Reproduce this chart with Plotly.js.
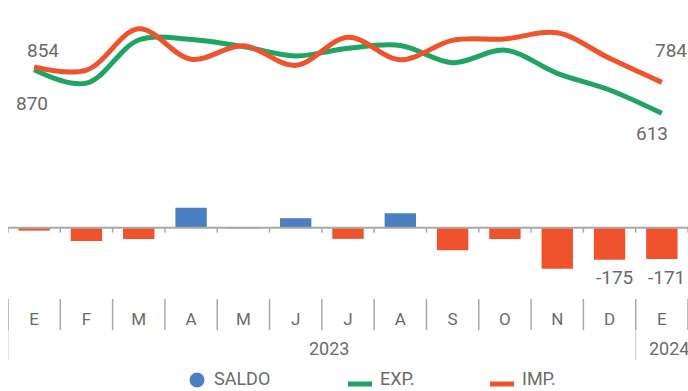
<!DOCTYPE html>
<html>
<head>
<meta charset="utf-8">
<script src="https://cdn.plot.ly/plotly-3.0.1.min.js"></script>
<style>
  html, body { margin: 0; padding: 0; background: #fff; }
  #chart { width: 688px; height: 391px; }
</style>
</head>
<body>
<div id="chart"></div>
<script>
// Monthly trade: exports, imports and balance (SALDO = EXP. - IMP.)
const months = ['E', 'F', 'M', 'A', 'M', 'J', 'J', 'A', 'S', 'O', 'N', 'D', 'E'];
const years = ['2023', '2024'];
const yearFirst = [0, 12];
const yearLast = [11, 12];
const exports = [854, 780, 1018, 1021, 982, 930, 972, 988, 893, 962, 834, 742, 613];
const imports = [870, 852, 1080, 912, 986, 878, 1033, 909, 1016, 1024, 1058, 917, 784];
const seriesNames = ['SALDO', 'EXP.', 'IMP.'];

const idx = months.map((_, i) => i);
const saldo = exports.map((v, i) => v - imports[i]);

const GREEN = '#1fa463';
const ORANGE = '#ef532e';
const BLUE = '#4c7fc2';
const GREY_TEXT = '#6b6b6b';
const FONT = 'Roboto, "Open Sans", sans-serif';

// plot area geometry (pixels) used to place legend / year row in paper space
const PLOT_L = 8, PLOT_W = 680, PLOT_H = 300;
const px = x => (x - PLOT_L) / PLOT_W;
const py = y => (PLOT_H - y) / PLOT_H;

const traces = [
  {
    type: 'bar', x: idx, y: saldo, yaxis: 'y2', width: 0.6,
    marker: { color: saldo.map(v => v >= 0 ? BLUE : ORANGE) },
    name: seriesNames[0], showlegend: false, hoverinfo: 'skip'
  },
  {
    type: 'scatter', mode: 'lines', x: idx, y: exports,
    line: { color: GREEN, width: 5, shape: 'spline', smoothing: 1 },
    name: seriesNames[1], showlegend: false, hoverinfo: 'skip'
  },
  {
    type: 'scatter', mode: 'lines', x: idx, y: imports,
    line: { color: ORANGE, width: 5, shape: 'spline', smoothing: 1 },
    name: seriesNames[2], showlegend: false, hoverinfo: 'skip'
  }
];

const last = idx.length - 1;
const labelFont = { family: FONT, size: 19, color: GREY_TEXT };
const annotations = [
  { x: 0, y: exports[0], yref: 'y', text: String(exports[0]), xshift: 9, yshift: 19 },
  { x: 0, y: imports[0], yref: 'y', text: String(imports[0]), xshift: -2, yshift: -37 },
  { x: last, y: imports[last], yref: 'y', text: String(imports[last]), xshift: 9, yshift: 32 },
  { x: last, y: exports[last], yref: 'y', text: String(exports[last]), xshift: -10, yshift: -20 },
  { x: last - 1, y: saldo[last - 1], yref: 'y2', text: String(saldo[last - 1]), xshift: 5, yshift: -18 },
  { x: last, y: saldo[last], yref: 'y2', text: String(saldo[last]), xshift: 5, yshift: -18 }
].map(a => Object.assign({ xref: 'x', showarrow: false, font: labelFont,
  xanchor: 'center', yanchor: 'middle' }, a));

// year row
years.forEach((yr, k) => {
  annotations.push({
    x: (yearFirst[k] + yearLast[k]) / 2, xref: 'x', y: py(348), yref: 'paper',
    text: yr, showarrow: false, xshift: 7, xanchor: 'center', yanchor: 'middle',
    font: { family: FONT, size: 18, color: GREY_TEXT }
  });
});

// legend text
const legendFont = { family: FONT, size: 18, color: GREY_TEXT };
[[212, seriesNames[0]], [378, seriesNames[1]], [520, seriesNames[2]]].forEach(([x, t]) => {
  annotations.push({ x: px(x), xref: 'paper', y: py(391), yref: 'paper', text: t,
    showarrow: false, xanchor: 'left', yanchor: 'bottom', font: legendFont });
});

const shapes = [];
// category separators below the plot
for (let b = 0; b <= months.length; b++) {
  shapes.push({ type: 'line', xref: 'x', x0: b - 0.5, x1: b - 0.5,
    yref: 'paper', ysizemode: 'pixel', yanchor: 0, y0: 1, y1: -30,
    line: { color: '#a9a9a9', width: 1.5 } });
}
// year separators
[yearFirst[0], yearFirst[1]].forEach(f => {
  shapes.push({ type: 'line', xref: 'x', x0: f - 0.5, x1: f - 0.5,
    yref: 'paper', y0: py(330), y1: py(360),
    line: { color: '#dcdcdc', width: 1.5 } });
});
// balance baseline with boundary ticks
shapes.push({ type: 'line', xref: 'paper', x0: 0, x1: 1, yref: 'y2', y0: 0, y1: 0,
  line: { color: '#a9a9a9', width: 2 } });
for (let b = 0; b <= months.length; b++) {
  shapes.push({ type: 'line', xref: 'x', x0: b - 0.5, x1: b - 0.5,
    yref: 'y2', ysizemode: 'pixel', yanchor: 0, y0: 0, y1: -5,
    line: { color: '#a9a9a9', width: 1.5 } });
}
// legend symbols
shapes.push({ type: 'circle', xref: 'paper', yref: 'paper',
  xsizemode: 'pixel', ysizemode: 'pixel', xanchor: px(197), yanchor: py(380),
  x0: -7.5, x1: 7.5, y0: -7.5, y1: 7.5, fillcolor: BLUE, line: { width: 0 } });
shapes.push({ type: 'line', xref: 'paper', yref: 'paper', x0: px(348), x1: px(372),
  y0: py(384), y1: py(384), line: { color: GREEN, width: 5 } });
shapes.push({ type: 'line', xref: 'paper', yref: 'paper', x0: px(490), x1: px(514),
  y0: py(384), y1: py(384), line: { color: ORANGE, width: 5 } });

const layout = {
  width: 688, height: 391,
  margin: { l: PLOT_L, r: 0, t: 0, b: 91, pad: 0 },
  paper_bgcolor: '#fff', plot_bgcolor: '#fff',
  showlegend: false,
  xaxis: {
    range: [-0.5, 12.5], tickmode: 'array', tickvals: idx, ticktext: months,
    ticks: '', showline: false, showgrid: false, zeroline: false,
    tickfont: { family: FONT, size: 17, color: GREY_TEXT }, ticklabelstandoff: 7,
    fixedrange: true
  },
  yaxis: { range: [-418, 1239], visible: false, fixedrange: true },
  yaxis2: { range: [-395, 1244], overlaying: 'y', visible: false, fixedrange: true },
  annotations: annotations,
  shapes: shapes
};

Plotly.newPlot('chart', traces, layout, { staticPlot: true, displayModeBar: false });
</script>
</body>
</html>
